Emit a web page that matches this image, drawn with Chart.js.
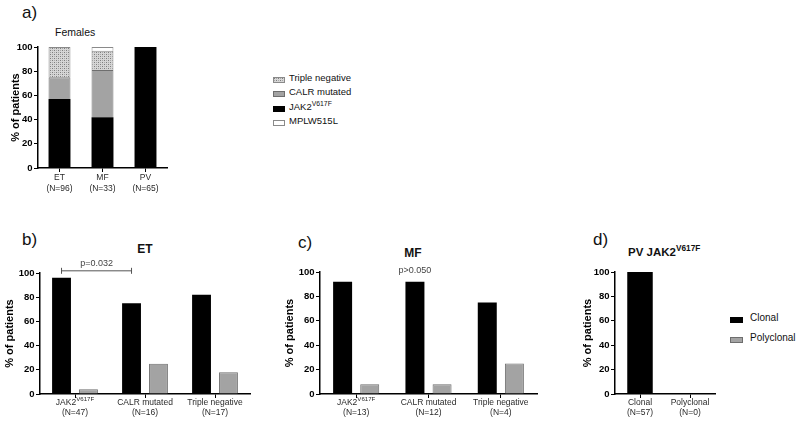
<!DOCTYPE html>
<html>
<head>
<meta charset="utf-8">
<script src="https://cdn.jsdelivr.net/npm/chart.js@4.4.0/dist/chart.umd.min.js"></script>
<style>
body { margin: 0; background: #fff; width: 800px; height: 423px; overflow: hidden; position: relative;
       font-family: "Liberation Sans", Arial, sans-serif; color: #111; }
canvas { position: absolute; }
.t { position: absolute; white-space: nowrap; line-height: 1; }
.c { transform: translateX(-50%); }
.b { font-weight: bold; }
.lg { position: absolute; font-size: 9.5px; line-height: 1; white-space: nowrap; }
.lg .row { position: absolute; left: 0; white-space: nowrap; }
.lg .sw { position: absolute; left: 0; width: 12px; height: 6px; box-sizing: border-box; }
.lg .tx { position: absolute; left: 16px; top: -4px; }
sup { font-size: 0.72em; vertical-align: 0; position: relative; top: -0.55em; }
</style>
</head>
<body>

<div class="t" style="left:22px;top:4px;font-size:17px">a)</div>
<div class="t" style="left:55px;top:27px;font-size:10.5px">Females</div>
<div class="t" style="left:22px;top:231px;font-size:17px">b)</div>
<div class="t b c" style="left:145px;top:243px;font-size:12px">ET</div>
<div class="t" style="left:298px;top:234px;font-size:17px">c)</div>
<div class="t b c" style="left:413px;top:247px;font-size:12px">MF</div>
<div class="t" style="left:593px;top:231px;font-size:17px">d)</div>
<div class="t b" style="left:628px;top:247px;font-size:11.5px">PV JAK2<sup>V617F</sup></div>

<div class="lg" id="legendA" style="left:273px;top:77px"></div>
<div class="lg" id="legendD" style="left:730px;top:317px;font-size:10px"></div>

<canvas id="chartA" width="170" height="200" style="left:0;top:0"></canvas>
<canvas id="chartB" width="260" height="168" style="left:0;top:255px"></canvas>
<canvas id="chartC" width="265" height="168" style="left:280px;top:255px"></canvas>
<canvas id="chartD" width="145" height="168" style="left:578px;top:255px"></canvas>

<script>
// panel a - females by diagnosis (stacked %)
const aCategories = ['ET', 'MF', 'PV'];
const aCounts = ['(N=96)', '(N=33)', '(N=65)'];
const aJak2 = [57, 42, 100];
const aCalr = [18, 39, 0];
const aTripleNeg = [25, 16, 0];
const aMpl = [0, 3, 0];

// panel b - ET clonality
const bCategories = ['JAK2^V617F', 'CALR mutated', 'Triple negative'];
const bCounts = ['(N=47)', '(N=16)', '(N=17)'];
const bClonal = [96, 75, 82];
const bPolyclonal = [4, 25, 18];

// panel c - MF clonality
const cCategories = ['JAK2^V617F', 'CALR mutated', 'Triple negative'];
const cCounts = ['(N=13)', '(N=12)', '(N=4)'];
const cClonal = [92, 92, 75];
const cPolyclonal = [8, 8, 25];

// panel d - PV JAK2 clonality
const dCategories = ['Clonal', 'Polyclonal'];
const dCounts = ['(N=57)', '(N=0)'];
const dValues = [100, 0];

const yMin = 0, yMax = 100, yStep = 20;

const FONT = '"Liberation Sans", Arial, sans-serif';
const BLACK = '#000000';
const GREY = '#a3a3a3';
const GREY_EDGE = '#6e6e6e';

// dotted fill used for "Triple negative"
function makePattern() {
    const c = document.createElement('canvas');
    c.width = 4; c.height = 4;
    const g = c.getContext('2d');
    g.fillStyle = '#d6d6d6';
    g.fillRect(0, 0, 4, 4);
    g.fillStyle = '#7e7e7e';
    g.fillRect(0, 0, 1, 1);
    g.fillRect(2, 2, 1, 1);
    g.fillStyle = '#a8a8a8';
    g.fillRect(2, 0, 1, 1);
    g.fillRect(0, 2, 1, 1);
    return c;
}
const patCanvas = makePattern();
const pattern = document.createElement('canvas').getContext('2d').createPattern(patCanvas, 'repeat');

function supHtml(s) {
    const [main, sup] = s.split('^');
    return sup ? main + '<sup>' + sup + '</sup>' : main;
}

// category labels drawn under the axis (second line = group size, superscript allowed)
const xLabels = {
    id: 'xLabels',
    afterDraw(chart, args, o) {
        const ctx = chart.ctx;
        const x = chart.scales.x;
        const base = chart.chartArea.bottom;
        ctx.save();
        ctx.fillStyle = '#2a2a2a';
        ctx.textBaseline = 'middle';
        chart.data.labels.forEach((lab, i) => {
            const cx = x.getPixelForValue(i);
            const [main, sup] = lab.split('^');
            const mf = o.size + 'px ' + FONT;
            const sf = (o.size * 0.72) + 'px ' + FONT;
            ctx.font = mf;
            const w1 = ctx.measureText(main).width;
            let w2 = 0;
            if (sup) { ctx.font = sf; w2 = ctx.measureText(sup).width; }
            const x0 = cx - (w1 + w2) / 2;
            ctx.textAlign = 'left';
            ctx.font = mf;
            ctx.fillText(main, x0, base + o.dy1);
            if (sup) {
                ctx.font = sf;
                ctx.fillText(sup, x0 + w1, base + o.dy1 - o.size * 0.45);
            }
            ctx.font = mf;
            ctx.textAlign = 'center';
            ctx.fillText(o.counts[i], cx, base + o.dy2);
        });
        ctx.restore();
    }
};

// significance note above bars
const pNote = {
    id: 'pNote',
    afterDatasetsDraw(chart, args, o) {
        if (!o.text) return;
        const ctx = chart.ctx;
        const bars = chart.getDatasetMeta(0).data;
        const x1 = bars[o.from].x, x2 = bars[o.to].x;
        const y = chart.scales.y.getPixelForValue(o.level);
        ctx.save();
        ctx.strokeStyle = '#555';
        ctx.fillStyle = '#444';
        ctx.lineWidth = 1;
        if (o.line) {
            ctx.beginPath();
            ctx.moveTo(x1, y); ctx.lineTo(x2, y);
            ctx.moveTo(x1, y - 3); ctx.lineTo(x1, y + 3);
            ctx.moveTo(x2, y - 3); ctx.lineTo(x2, y + 3);
            ctx.stroke();
        }
        ctx.font = o.size + 'px ' + FONT;
        ctx.textAlign = 'center';
        ctx.textBaseline = 'middle';
        ctx.fillText(o.text, o.line ? (x1 + x2) / 2 : x2, y - o.gap);
        ctx.restore();
    }
};

function baseOptions(box, area, tickSize, titleSize, titlePad, labelCfg, stacked) {
    return {
        responsive: false,
        animation: false,
        devicePixelRatio: 1,
        events: [],
        layout: {
            padding: { left: 0, top: area.top - box.y, right: box.x + box.w - area.right, bottom: 0 }
        },
        plugins: {
            legend: { display: false },
            tooltip: { enabled: false },
            xLabels: labelCfg
        },
        scales: {
            x: {
                stacked: stacked,
                grid: { display: true, drawOnChartArea: false, drawTicks: true, tickLength: 4, offset: false, color: BLACK, lineWidth: 1 },
                border: { display: true, color: BLACK, width: 1.5 },
                ticks: { display: false },
                afterFit(s) { s.height = box.y + box.h - area.bottom; }
            },
            y: {
                stacked: stacked,
                min: yMin, max: yMax,
                grid: { drawOnChartArea: false, drawTicks: true, tickLength: 4, color: BLACK, lineWidth: 1 },
                border: { display: true, color: BLACK, width: 1.5 },
                ticks: { stepSize: yStep, padding: 1.5, color: BLACK, font: { family: FONT, size: tickSize, weight: 'bold' } },
                title: { display: true, text: '% of patients', color: BLACK, padding: { top: titlePad, bottom: 0 },
                         font: { family: FONT, size: titleSize, weight: 'bold' } },
                afterFit(s) { s.width = area.left - box.x; }
            }
        }
    };
}

// ---- panel a
const aDatasets = [
    { label: 'JAK2^V617F', data: aJak2, backgroundColor: BLACK, borderWidth: 0 },
    { label: 'CALR mutated', data: aCalr, backgroundColor: GREY, borderColor: GREY_EDGE, borderWidth: 1 },
    { label: 'Triple negative', data: aTripleNeg, backgroundColor: pattern, borderColor: '#8a8a8a', borderWidth: 1 },
    { label: 'MPLW515L', data: aMpl, backgroundColor: '#ffffff', borderColor: '#8a8a8a', borderWidth: 1 }
];
new Chart(document.getElementById('chartA'), {
    type: 'bar',
    data: { labels: aCategories, datasets: aDatasets.map(d => Object.assign(d, { categoryPercentage: 1, barPercentage: 0.51 })) },
    options: baseOptions({ x: 0, y: 0, w: 170, h: 200 }, { left: 38, top: 47, right: 167, bottom: 168 },
        9.5, 11, 9, { counts: aCounts, size: 8.5, dy1: 10, dy2: 21 }, true),
    plugins: [xLabels]
});

// legend a, in the order the figure lists it
const legendOrderA = [2, 1, 0, 3];
const legA = document.getElementById('legendA');
legendOrderA.map(k => aDatasets[k]).forEach((d, i) => {
    const row = document.createElement('div');
    row.className = 'row';
    row.style.top = (i * 14.3) + 'px';
    const sw = document.createElement('div');
    sw.className = 'sw';
    if (d.backgroundColor === pattern) {
        sw.style.backgroundImage = 'url(' + patCanvas.toDataURL() + ')';
    } else {
        sw.style.background = d.backgroundColor;
    }
    if (d.borderWidth) sw.style.border = '1px solid ' + d.borderColor;
    const tx = document.createElement('div');
    tx.className = 'tx';
    tx.innerHTML = supHtml(d.label);
    row.appendChild(sw); row.appendChild(tx);
    legA.appendChild(row);
});

// ---- panels b and c
function clonalChart(id, box, area, cats, counts, clonal, poly, catPct, note) {
    const opts = baseOptions(box, area, 9.5, 11, 3.5, { counts: counts, size: 8.5, dy1: 9, dy2: 18.5 }, false);
    opts.plugins.pNote = note;
    return new Chart(document.getElementById(id), {
        type: 'bar',
        data: {
            labels: cats,
            datasets: [
                { label: 'Clonal', data: clonal, backgroundColor: BLACK, borderWidth: 0, categoryPercentage: catPct, barPercentage: 0.7 },
                { label: 'Polyclonal', data: poly, backgroundColor: GREY, borderColor: GREY_EDGE, borderWidth: 1, categoryPercentage: catPct, barPercentage: 0.7 }
            ]
        },
        options: opts,
        plugins: [xLabels, pNote]
    });
}

clonalChart('chartB', { x: 0, y: 255, w: 260, h: 168 }, { left: 40, top: 273, right: 250, bottom: 394 },
    bCategories, bCounts, bClonal, bPolyclonal, 0.77,
    { text: 'p=0.032', from: 0, to: 1, level: 101.8, gap: 7, line: true, size: 9 });

clonalChart('chartC', { x: 280, y: 255, w: 265, h: 168 }, { left: 320, top: 272, right: 537, bottom: 394 },
    cCategories, cCounts, cClonal, cPolyclonal, 0.75,
    { text: 'p>0.050', from: 1, to: 1, level: 101.5, gap: 0, line: false, size: 9 });

// ---- panel d
const optsD = baseOptions({ x: 578, y: 255, w: 145, h: 168 }, { left: 615, top: 272, right: 715, bottom: 394 },
    9.5, 11, 3.5, { counts: dCounts, size: 8.5, dy1: 9, dy2: 18.5 }, false);
new Chart(document.getElementById('chartD'), {
    type: 'bar',
    data: {
        labels: dCategories,
        datasets: [{ label: 'PV JAK2^V617F', data: dValues, backgroundColor: [BLACK, GREY],
                     borderColor: GREY_EDGE, borderWidth: [0, 1], categoryPercentage: 1, barPercentage: 0.51 }]
    },
    options: optsD,
    plugins: [xLabels]
});

// legend d
const legD = document.getElementById('legendD');
[['Clonal', BLACK, 0], ['Polyclonal', GREY, 1]].forEach((e, i) => {
    const row = document.createElement('div');
    row.className = 'row';
    row.style.top = (i * 20) + 'px';
    const sw = document.createElement('div');
    sw.className = 'sw';
    sw.style.width = '13px';
    sw.style.background = e[1];
    if (e[2]) sw.style.border = '1px solid ' + GREY_EDGE;
    const tx = document.createElement('div');
    tx.className = 'tx';
    tx.style.left = '20px';
    tx.textContent = e[0];
    row.appendChild(sw); row.appendChild(tx);
    legD.appendChild(row);
});
</script>
</body>
</html>
